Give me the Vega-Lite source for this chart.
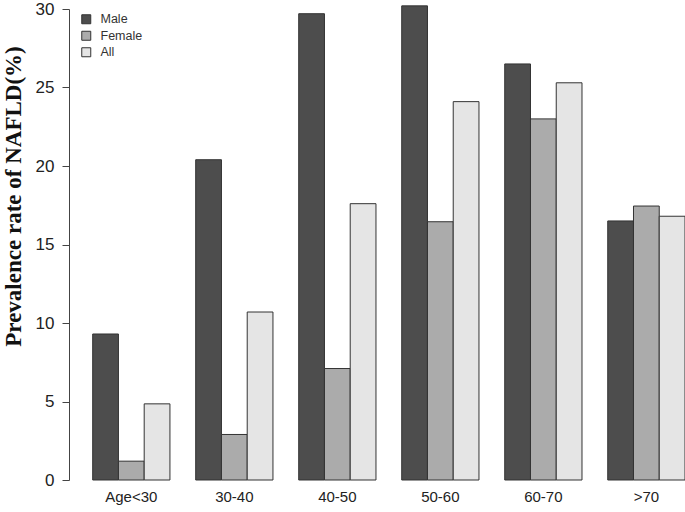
{
  "$schema": "https://vega.github.io/schema/vega-lite/v6.json",
  "width": 616,
  "height": 471,
  "autosize": {"type": "none"},
  "padding": {"left": 69, "top": 9, "right": 0, "bottom": 32},
  "background": "white",
  "config": {"view": {"stroke": null}},
  "data": {
    "values": [
      {"age": "Age<30", "group": "Male", "rate": 9.3},
      {"age": "Age<30", "group": "Female", "rate": 1.2},
      {"age": "Age<30", "group": "All", "rate": 4.85},
      {"age": "30-40", "group": "Male", "rate": 20.4},
      {"age": "30-40", "group": "Female", "rate": 2.9},
      {"age": "30-40", "group": "All", "rate": 10.7},
      {"age": "40-50", "group": "Male", "rate": 29.7},
      {"age": "40-50", "group": "Female", "rate": 7.1},
      {"age": "40-50", "group": "All", "rate": 17.6},
      {"age": "50-60", "group": "Male", "rate": 30.2},
      {"age": "50-60", "group": "Female", "rate": 16.45},
      {"age": "50-60", "group": "All", "rate": 24.1},
      {"age": "60-70", "group": "Male", "rate": 26.5},
      {"age": "60-70", "group": "Female", "rate": 23.0},
      {"age": "60-70", "group": "All", "rate": 25.3},
      {"age": ">70", "group": "Male", "rate": 16.5},
      {"age": ">70", "group": "Female", "rate": 17.45},
      {"age": ">70", "group": "All", "rate": 16.8}
    ]
  },
  "mark": {"type": "bar", "stroke": "#333333", "strokeWidth": 1},
  "encoding": {
    "x": {
      "field": "age",
      "type": "nominal",
      "sort": null,
      "scale": {"paddingInner": 0.25, "paddingOuter": 0.115, "align": 1},
      "axis": {
        "title": null,
        "domain": false,
        "ticks": false,
        "labelAngle": 0,
        "labelFont": "Liberation Sans",
        "labelFontSize": 15,
        "labelColor": "#222222",
        "labelPadding": 9
      }
    },
    "xOffset": {
      "field": "group",
      "type": "nominal",
      "sort": ["Male", "Female", "All"],
      "scale": {"paddingInner": 0, "paddingOuter": 0}
    },
    "y": {
      "field": "rate",
      "type": "quantitative",
      "scale": {"domain": [0, 30], "nice": false},
      "axis": {
        "title": "Prevalence rate of NAFLD(%)",
        "titleFont": "Liberation Serif",
        "titleFontWeight": "bold",
        "titleFontSize": 23,
        "titleColor": "#111111",
        "titleX": -49,
        "titleY": 187,
        "titleAngle": -90,
        "titleAlign": "center",
        "titleBaseline": "alphabetic",
        "values": [0, 5, 10, 15, 20, 25, 30],
        "grid": false,
        "domainColor": "#444444",
        "tickColor": "#444444",
        "tickSize": 7,
        "labelFont": "Liberation Sans",
        "labelFontSize": 17,
        "labelColor": "#222222",
        "labelPadding": 8
      }
    },
    "color": {
      "field": "group",
      "type": "nominal",
      "scale": {"domain": ["Male", "Female", "All"], "range": ["#4D4D4D", "#ABABAB", "#E5E5E5"]},
      "legend": {
        "title": null,
        "orient": "none",
        "legendX": 11,
        "legendY": 4,
        "symbolType": "square",
        "symbolSize": 81,
        "symbolStrokeColor": "#333333",
        "symbolStrokeWidth": 1,
        "symbolOpacity": 1,
        "labelFont": "Liberation Sans",
        "labelFontSize": 12.5,
        "labelColor": "#333333",
        "labelOffset": 8,
        "rowPadding": 2.5
      }
    }
  }
}
